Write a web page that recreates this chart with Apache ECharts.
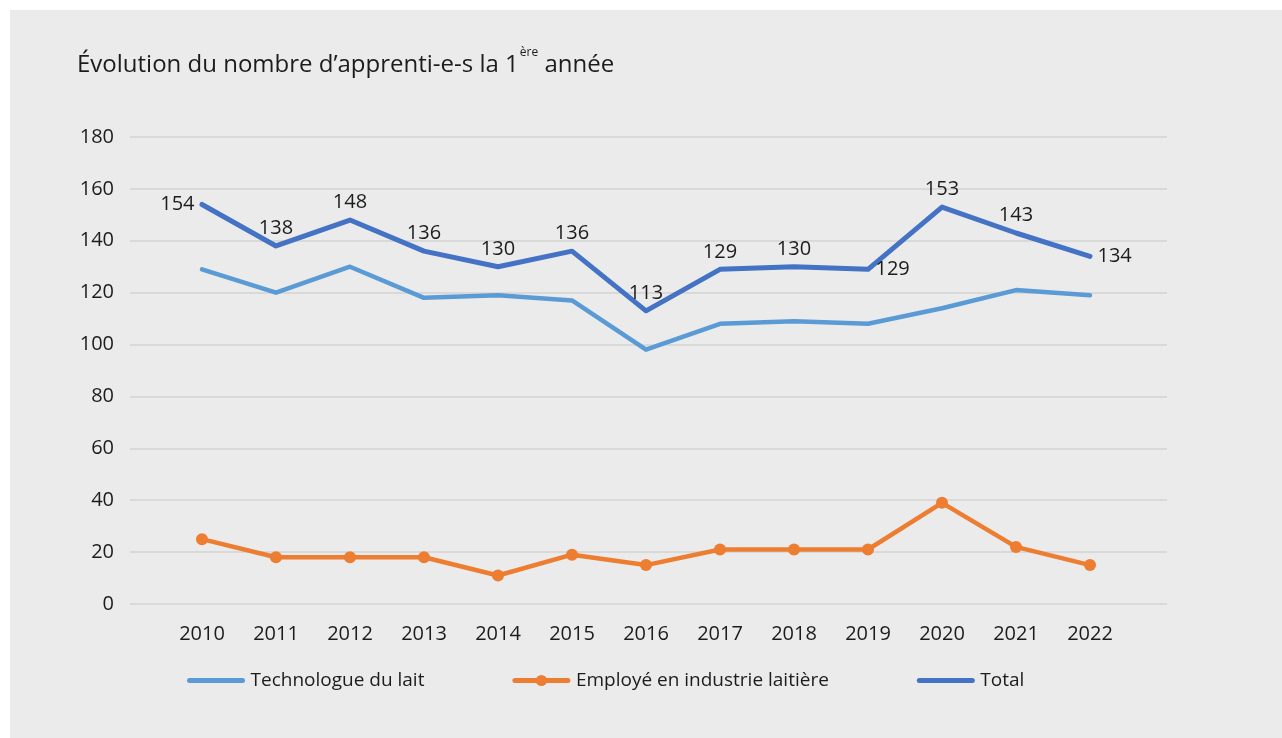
<!DOCTYPE html>
<html>
<head>
<meta charset="utf-8">
<script src="https://cdn.jsdelivr.net/npm/echarts@6/dist/echarts.min.js"></script>
<style>
  html, body { margin: 0; padding: 0; background: #ffffff; }
  #chart { position: absolute; left: 10px; top: 10px; width: 1272px; height: 728px; }
</style>
</head>
<body>
<div id="chart"></div>
<script>
// données
var years = ["2010", "2011", "2012", "2013", "2014", "2015", "2016", "2017", "2018", "2019", "2020", "2021", "2022"];
var technologue = [129, 120, 130, 118, 119, 117, 98, 108, 109, 108, 114, 121, 119];
var employe = [25, 18, 18, 18, 11, 19, 15, 21, 21, 21, 39, 22, 15];
var total = [154, 138, 148, 136, 130, 136, 113, 129, 130, 129, 153, 143, 134];
var yTicks = [0, 20, 40, 60, 80, 100, 120, 140, 160, 180];

// position des étiquettes de la série Total
var totalLabelPos = ["left", "top", "top", "top", "top", "top", "top", "top", "top", "right", "top", "top", "right"];

var textColor = "#1c1c1c";
var font = "Open Sans";

var chart = echarts.init(document.getElementById("chart"));

var option = {
    backgroundColor: "#ebebeb",
    textStyle: { fontFamily: font },
    title: {
        text: "{t|Évolution du nombre d’apprenti-e-s la 1}{s|ère}{t| année}",
        left: 62,
        top: 32,
        textStyle: {
            fontWeight: "normal",
            rich: {
                t: { fontSize: 24, color: textColor, fontFamily: font, fontWeight: "normal", verticalAlign: "bottom", lineHeight: 30 },
                s: { fontSize: 12, color: textColor, fontFamily: font, fontWeight: "normal", verticalAlign: "top", lineHeight: 30, padding: [0, 0, 6, 1] }
            }
        }
    },
    legend: {
        top: 656,
        left: 172,
        itemWidth: 53,
        itemHeight: 14,
        itemGap: 88,
        lineStyle: { width: 5, cap: "round" },
        textStyle: { fontSize: 19, color: textColor, fontFamily: font, padding: [0, 0, 0, 3] },
        data: [
            { name: "Technologue du lait", itemStyle: { opacity: 0 } },
            { name: "Employé en industrie laitière" },
            { name: "Total", itemStyle: { opacity: 0 } }
        ]
    },
    grid: [
        { left: 120, top: 127, width: 1037, height: 467 },
        { left: 155, top: 127, width: 962, height: 467 }
    ],
    xAxis: [
        { type: "category", gridIndex: 0, data: years, show: false },
        {
            type: "category",
            gridIndex: 1,
            data: years,
            boundaryGap: true,
            axisLine: { show: false },
            axisTick: { show: false },
            axisLabel: { fontSize: 20, color: textColor, margin: 20, fontFamily: font }
        }
    ],
    yAxis: [
        {
            type: "value",
            gridIndex: 0,
            min: yTicks[0],
            max: yTicks[yTicks.length - 1],
            interval: yTicks[1] - yTicks[0],
            axisLine: { show: false },
            axisTick: { show: false },
            axisLabel: { fontSize: 20, color: textColor, margin: 16, fontFamily: font },
            splitLine: { lineStyle: { color: "#d9d9d9", width: 2 } }
        },
        {
            type: "value",
            gridIndex: 1,
            min: yTicks[0],
            max: yTicks[yTicks.length - 1],
            interval: yTicks[1] - yTicks[0],
            show: false,
            splitLine: { show: false }
        }
    ],
    series: [
        {
            name: "Technologue du lait",
            type: "line",
            xAxisIndex: 1,
            yAxisIndex: 1,
            data: technologue,
            symbol: "none",
            lineStyle: { color: "#5b9bd5", width: 4.5, cap: "round", join: "round" },
            itemStyle: { color: "#5b9bd5" }
        },
        {
            name: "Employé en industrie laitière",
            type: "line",
            xAxisIndex: 1,
            yAxisIndex: 1,
            data: employe,
            symbol: "circle",
            symbolSize: 12,
            lineStyle: { color: "#ed7d31", width: 4.5, cap: "round", join: "round" },
            itemStyle: { color: "#ed7d31" }
        },
        {
            name: "Total",
            type: "line",
            xAxisIndex: 1,
            yAxisIndex: 1,
            data: total.map(function (v, i) {
                return { value: v, label: { position: totalLabelPos[i] } };
            }),
            symbol: "circle",
            symbolSize: 1,
            lineStyle: { color: "#4472c4", width: 5, cap: "round", join: "round" },
            itemStyle: { color: "#4472c4" },
            label: {
                show: true,
                fontSize: 20,
                color: textColor,
                fontFamily: font,
                distance: 7
            }
        }
    ]
};

chart.setOption(option);
</script>
</body>
</html>
